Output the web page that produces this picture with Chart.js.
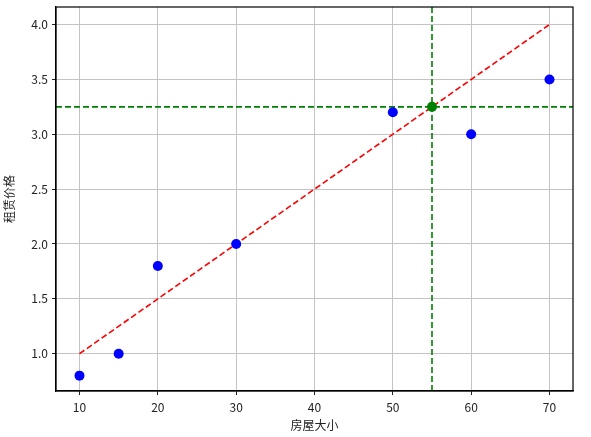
<!DOCTYPE html>
<html>
<head>
<meta charset="utf-8">
<script src="https://cdn.jsdelivr.net/npm/chart.js@4"></script>
<style>
  html, body { margin: 0; padding: 0; background: #fff; }
  #wrap { width: 591px; height: 437px; }
</style>
</head>
<body>
<div id="wrap"><canvas id="chartCanvas" width="591" height="437"></canvas></div>
<script>
// house size vs rent price
const houseSize = [10, 15, 20, 30, 50, 60, 70];
const rentPrice = [0.8, 1.0, 1.8, 2.0, 3.2, 3.0, 3.5];
const fitX = [10, 70];
const fitY = [1.0, 4.0];
const predictX = 55;
const predictY = 3.25;
const xRange = [7, 73];
const yRange = [0.66, 4.16];
const yTicks = [1.0, 1.5, 2.0, 2.5, 3.0, 3.5, 4.0];
const xTicks = [10, 20, 30, 40, 50, 60, 70];

const font = "'Noto Sans CJK SC', 'DejaVu Sans', sans-serif";
const ctx = document.getElementById("chartCanvas");

new Chart(ctx, {
    type: "scatter",
    data: {
        datasets: [
            {
                label: "predict",
                data: [{ x: predictX, y: predictY }],
                backgroundColor: "#008000",
                borderWidth: 0,
                pointRadius: 5,
                order: 0
            },
            {
                label: "samples",
                data: houseSize.map((x, i) => ({ x: x, y: rentPrice[i] })),
                backgroundColor: "#0000ff",
                borderWidth: 0,
                pointRadius: 5,
                order: 1
            },
            {
                label: "hline",
                type: "line",
                data: [{ x: xRange[0], y: predictY }, { x: xRange[1], y: predictY }],
                borderColor: "#008000",
                borderWidth: 1.6,
                borderDash: [6, 3],
                pointRadius: 0,
                fill: false,
                order: 2
            },
            {
                label: "vline",
                type: "line",
                data: [{ x: predictX, y: yRange[0] }, { x: predictX, y: yRange[1] }],
                borderColor: "#008000",
                borderWidth: 1.6,
                borderDash: [6, 3],
                pointRadius: 0,
                fill: false,
                order: 3
            },
            {
                label: "fit",
                type: "line",
                data: fitX.map((x, i) => ({ x: x, y: fitY[i] })),
                borderColor: "#ff0000",
                borderWidth: 1.6,
                borderDash: [6, 3],
                pointRadius: 0,
                fill: false,
                order: 4
            }
        ]
    },
    options: {
        responsive: false,
        animation: false,
        layout: { padding: { left: 0, top: 7, right: 18, bottom: 0 } },
        plugins: {
            legend: { display: false },
            tooltip: { enabled: false }
        },
        scales: {
            x: {
                type: "linear",
                min: xRange[0],
                max: xRange[1],
                afterBuildTicks: (scale) => { scale.ticks = xTicks.map(v => ({ value: v })); },
                afterFit: (scale) => {
                    scale.height = 46;
                    scale.paddingLeft = 0;
                    scale.paddingRight = 0;
                },
                ticks: {
                    color: "#222",
                    font: { family: font, size: 12 },
                    padding: 5,
                    maxRotation: 0
                },
                grid: {
                    color: "#c4c4c4",
                    lineWidth: 1,
                    tickLength: 4,
                    tickColor: "#222"
                },
                border: { color: "#000", width: 1.2 },
                title: {
                    display: true,
                    text: "房屋大小",
                    color: "#222",
                    font: { family: font, size: 12 },
                    padding: { top: 0, bottom: 4 }
                }
            },
            y: {
                type: "linear",
                min: yRange[0],
                max: yRange[1],
                afterBuildTicks: (scale) => { scale.ticks = yTicks.map(v => ({ value: v })); },
                afterFit: (scale) => {
                    scale.width = 56;
                    scale.paddingTop = 0;
                    scale.paddingBottom = 0;
                },
                ticks: {
                    color: "#222",
                    font: { family: font, size: 12 },
                    padding: 4,
                    callback: (v) => v.toFixed(1)
                },
                grid: {
                    color: "#c4c4c4",
                    lineWidth: 1,
                    tickLength: 4,
                    tickColor: "#222"
                },
                border: { color: "#000", width: 1.2 },
                title: {
                    display: true,
                    text: "租赁价格",
                    color: "#222",
                    font: { family: font, size: 12 },
                    padding: { top: 2, bottom: 2 }
                }
            }
        }
    },
    plugins: [{
        id: "frame",
        afterDraw(chart) {
            const a = chart.chartArea;
            const c = chart.ctx;
            c.save();
            c.strokeStyle = "#000";
            c.lineWidth = 1.2;
            c.strokeRect(a.left, a.top, a.right - a.left, a.bottom - a.top);
            c.restore();
        }
    }]
});
</script>
</body>
</html>
